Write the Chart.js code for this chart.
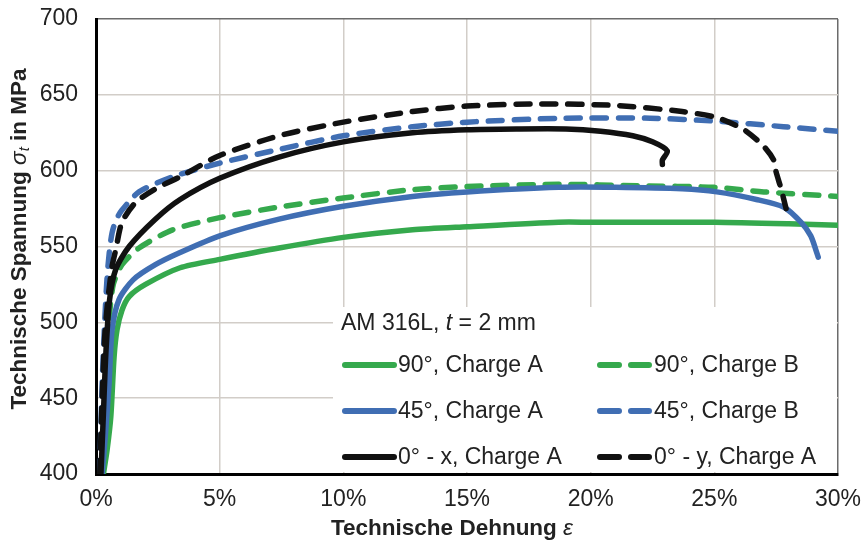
<!DOCTYPE html>
<html>
<head>
<meta charset="utf-8">
<script src="https://cdn.jsdelivr.net/npm/chart.js@4"></script>
<style>
html,body{margin:0;padding:0;background:#fff;}
#wrap{width:863px;height:547px;position:relative;}
</style>
</head>
<body>
<div id="wrap"><canvas id="c" width="863" height="547"></canvas></div>
<script>
// ---- Data (strain in %, stress in MPa) ----
const xTicks = [0, 5, 10, 15, 20, 25, 30];
const yTicks = [400, 450, 500, 550, 600, 650, 700];

const labels = ["90°, Charge A", "90°, Charge B", "45°, Charge A", "45°, Charge B", "0° - x, Charge A", "0° - y, Charge A"];

const strain90A = [0.3,0.45,0.6,0.73,0.85,1.05,1.34,2,3.4,5,7.4,10,12.8,15,18.7,20,25,28,30];
const stress90A = [400,416,438,477,495,508,517,525,536,541.5,549,556,561,563,566,566,566,565,564];

const strain90B = [0.25,0.4,0.55,0.7,1.05,1.74,3.1,5,7.4,10,12.8,15,18.7,22,25,27,30];
const stress90B = [400,460,505,525,538,549,561,569,576,582,587.5,589.5,591,590,589,586,583];

const strain45A = [0.25,0.4,0.53,0.65,0.93,1.5,2.4,3.4,5,7.4,10,12.8,15,18.7,21,23.7,25.1,26.7,27.8,28.5,28.9,29.1,29.2];
const stress45A = [400,430,460,495,515,528,538,546,557,568,576.5,583,586,589,589,588,586,581,576,566,557,548,543];

const strain45B = [0.15,0.25,0.35,0.45,0.55,0.65,0.8,1.05,1.74,3.1,5,7.4,10,12.8,15,18.7,22.4,25.1,27.8,30];
const stress45B = [400,460,500,530,548,559,567,574,586,596,605,614,623,629,632,634.5,634.6,632.6,629,626];

const strain0x = [0.2,0.3,0.4,0.55,0.8,1.34,2.4,3.4,5,7.4,10,12.8,15,17,19,20.4,21.7,22.5,23.1,22.9,22.9];
const stress0x = [400,440,480,515,535,550,568,581,595,609,619,625,627,627.5,627.5,626,623,619,613,607,604];

const strain0y = [0.15,0.25,0.35,0.45,0.53,0.65,0.8,1.05,1.6,2.4,3.4,5,7.4,10,12.8,15,18,21,23.7,25.1,26.2,27,27.4,27.5,27.7,27.9];
const stress0y = [400,450,490,510,522,537,548,566,579,588,596,610,623,632,639,642.6,644,643,639,635,627,616,607,599,588,575];

const GREEN = '#35a94d', BLUE = '#406eb3', BLACK = '#111111';
const series = [
  {label: labels[0], xs: strain90A, ys: stress90A, color: GREEN, dashed: false, order: 6},
  {label: labels[1], xs: strain90B, ys: stress90B, color: GREEN, dashed: true,  order: 5},
  {label: labels[2], xs: strain45A, ys: stress45A, color: BLUE,  dashed: false, order: 4},
  {label: labels[3], xs: strain45B, ys: stress45B, color: BLUE,  dashed: true,  order: 3},
  {label: labels[4], xs: strain0x,  ys: stress0x,  color: BLACK, dashed: false, order: 2},
  {label: labels[5], xs: strain0y,  ys: stress0y,  color: BLACK, dashed: true,  order: 1}
];
const DASH = [14, 12];
const LW = 5.5;

const datasets = series.map(s => ({
  label: s.label,
  data: s.xs.map((x, i) => ({x: x, y: s.ys[i]})),
  borderColor: s.color,
  backgroundColor: s.color,
  borderWidth: LW,
  borderDash: s.dashed ? DASH : [],
  borderCapStyle: 'round',
  borderJoinStyle: 'round',
  pointRadius: 0,
  tension: 0.25,
  fill: false,
  order: s.order
}));

const FONT = '"Liberation Sans", Arial, sans-serif';
const TXT = '#222222';
const FS = 23;

const overlay = {
  id: 'overlay',
  afterDraw(chart) {
    const ctx = chart.ctx;
    const ca = chart.chartArea;
    ctx.save();
    // legend box (covers grid)
    const bx = 333, by = 307, bw = ca.right - 1 - bx, bh = ca.bottom - 2 - by;
    ctx.fillStyle = '#ffffff';
    ctx.fillRect(bx, by, bw, bh);
    // legend title
    ctx.fillStyle = TXT;
    ctx.textBaseline = 'middle';
    ctx.textAlign = 'left';
    let x = 341, y = 324;
    const parts = [['AM 316L, ', 'normal'], ['t', 'italic'], [' = 2 mm', 'normal']];
    parts.forEach(p => {
      ctx.font = p[1] + ' ' + FS + 'px ' + FONT;
      ctx.fillText(p[0], x, y);
      x += ctx.measureText(p[0]).width;
    });
    // legend entries
    const colX = [343, 598];
    const rowY = [365, 411, 457];
    series.forEach((s, i) => {
      const cx = colX[i % 2], cy = rowY[Math.floor(i / 2)];
      ctx.beginPath();
      ctx.strokeStyle = s.color;
      ctx.lineWidth = LW + 0.5;
      ctx.lineCap = 'round';
      ctx.setLineDash(s.dashed ? [19, 12] : []);
      ctx.moveTo(cx + 2, cy);
      ctx.lineTo(cx + 51, cy);
      ctx.stroke();
      ctx.setLineDash([]);
      ctx.font = FS + 'px ' + FONT;
      ctx.fillStyle = TXT;
      ctx.fillText(s.label, cx + (s.dashed ? 56 : 55), cy + 1);
    });
    // x axis title
    const t1 = 'Technische Dehnung ';
    ctx.font = 'bold 22.5px ' + FONT;
    const w1 = ctx.measureText(t1).width;
    ctx.font = 'italic 22.5px ' + FONT;
    const w2 = ctx.measureText('ε').width;
    let sx = 452 - (w1 + w2) / 2;
    ctx.font = 'bold 22.5px ' + FONT;
    ctx.fillText(t1, sx, 529);
    ctx.font = 'italic 22.5px ' + FONT;
    ctx.fillText('ε', sx + w1, 529);
    // y axis title (rotated)
    ctx.translate(20, 239);
    ctx.rotate(-Math.PI / 2);
    const yparts = [['Technische Spannung ', 'bold 22.5px', 0], ['σ', 'italic 22.5px', 0], ['t', 'italic 15px', 5], [' in MPa', 'bold 22.5px', 0]];
    let tw = 0;
    yparts.forEach(p => { ctx.font = p[1] + ' ' + FONT; tw += ctx.measureText(p[0]).width; });
    let px = -tw / 2;
    yparts.forEach(p => {
      ctx.font = p[1] + ' ' + FONT;
      ctx.fillText(p[0], px, p[2]);
      px += ctx.measureText(p[0]).width;
    });
    ctx.restore();
  }
};

new Chart(document.getElementById('c'), {
  type: 'line',
  data: { datasets: datasets },
  options: {
    responsive: false,
    animation: false,
    events: [],
    layout: { padding: { left: 0, top: 19, right: 25, bottom: 0 } },
    plugins: { legend: { display: false }, tooltip: { enabled: false }, title: { display: false } },
    scales: {
      x: {
        type: 'linear',
        min: xTicks[0], max: xTicks[xTicks.length - 1],
        afterFit: s => { s.height = 73; s.paddingLeft = 0; s.paddingRight = 0; },
        afterBuildTicks: s => { s.ticks = xTicks.map(v => ({value: v})); },
        ticks: { callback: v => v + '%', color: TXT, font: { family: FONT, size: FS }, padding: 12, maxRotation: 0 },
        grid: {
          drawTicks: false,
          lineWidth: 1.5,
          color: c => (c.tick && c.tick.value === 30) ? '#6b6b6b' : '#d2cdc8'
        },
        border: { color: '#000000', width: 3 }
      },
      y: {
        type: 'linear',
        min: yTicks[0], max: yTicks[yTicks.length - 1],
        afterFit: s => { s.width = 96; s.paddingTop = 0; s.paddingBottom = 0; },
        afterBuildTicks: s => { s.ticks = yTicks.map(v => ({value: v})); },
        ticks: { color: TXT, font: { family: FONT, size: FS }, padding: 18 },
        grid: {
          drawTicks: false,
          lineWidth: 1.5,
          color: c => (c.tick && c.tick.value === 700) ? '#6b6b6b' : '#d2cdc8'
        },
        border: { color: '#000000', width: 3 }
      }
    }
  },
  plugins: [overlay]
});
</script>
</body>
</html>
